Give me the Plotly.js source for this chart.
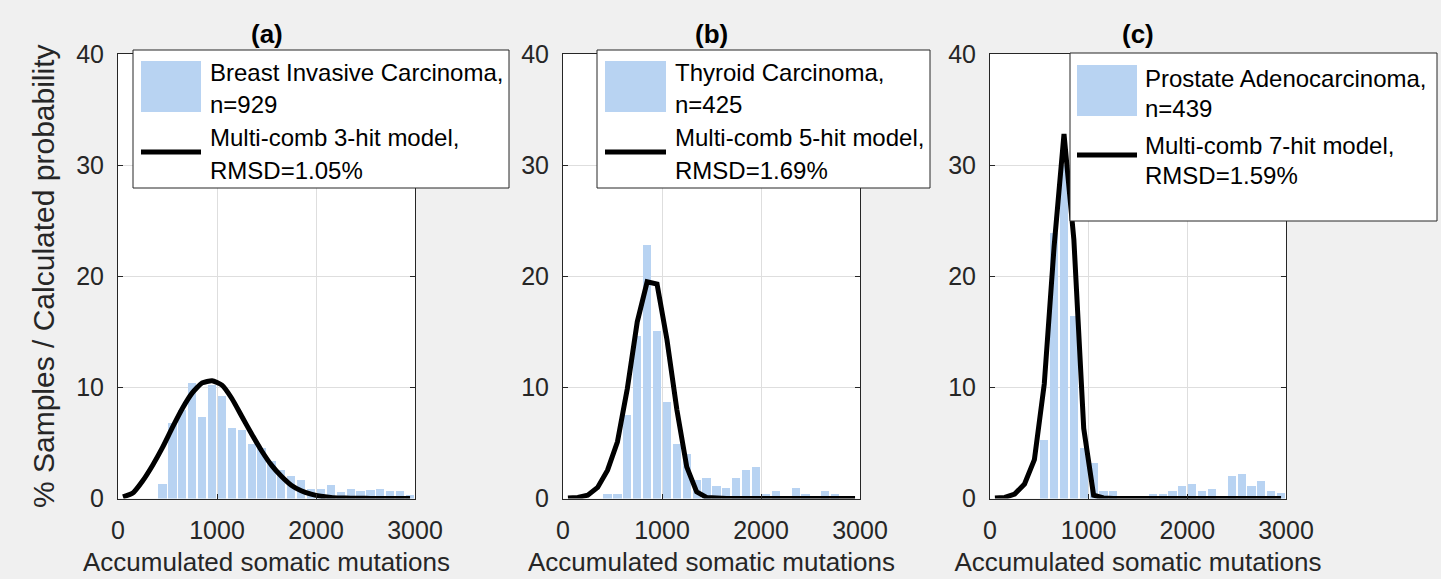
<!DOCTYPE html>
<html>
<head>
<meta charset="utf-8">
<script src="https://cdn.plot.ly/plotly-3.0.1.min.js"></script>
<style>html,body{margin:0;padding:0;background:#f0f0f0;}#chart{width:1441px;height:579px;}</style>
</head>
<body>
<div id="chart"></div>
<script>
// ---- data ----
const binCenters = [50,150,250,350,450,550,650,750,850,950,1050,1150,1250,1350,1450,1550,1650,1750,1850,1950,2050,2150,2250,2350,2450,2550,2650,2750,2850,2950];

const breastPct   = [0,0,0,0,1.3,6.8,8.0,10.4,7.3,10.2,9.2,6.3,6.2,4.9,4.5,3.4,2.6,2.0,1.7,0.9,0.9,1.2,0.6,0.9,0.7,0.8,0.9,0.7,0.7,0.3];
const thyroidPct  = [0,0,0,0,0.45,0.45,7.5,14.6,22.8,15.1,8.7,4.9,4.0,1.65,1.85,1.15,0.95,1.85,2.55,2.8,0.45,0.7,0,0.95,0.45,0,0.7,0.45,0,0];
const prostatePct = [0,0,0,0,0,5.25,23.9,30.0,16.4,4.5,3.2,0.7,0.7,0,0,0,0.4,0.4,0.7,1.1,1.35,0.7,0.9,0,2.0,2.25,1.15,1.6,0.7,0.5];

const breastModel   = [0.15,0.5,1.6,3.0,4.6,6.4,8.1,9.5,10.4,10.6,10.2,9.0,7.4,5.8,4.3,3.0,2.0,1.2,0.7,0.4,0.2,0.1,0.05,0.03,0.02,0.01,0.01,0,0,0];
const thyroidModel  = [0.05,0.1,0.3,1.0,2.55,5.1,9.9,15.9,19.5,19.3,14.3,8.0,2.85,0.6,0.1,0,0,0,0,0,0,0,0,0,0,0,0,0,0,0];
const prostateModel = [0.05,0.1,0.4,1.3,3.5,10.3,22.7,32.8,23.3,6.3,0.3,0.05,0,0,0,0,0,0,0,0,0,0,0,0,0,0,0,0,0,0];

const panelTitles  = ['(a)','(b)','(c)'];
const cancerLabels = [['Breast Invasive Carcinoma,','n=929'],['Thyroid Carcinoma,','n=425'],['Prostate Adenocarcinoma,','n=439']];
const modelLabels  = [['Multi-comb 3-hit model,','RMSD=1.05%'],['Multi-comb 5-hit model,','RMSD=1.69%'],['Multi-comb 7-hit model,','RMSD=1.59%']];
const xTickVals = [0,1000,2000,3000];
const yTickVals = [0,10,20,30,40];
const xTitle = 'Accumulated somatic mutations';
const yTitle = '% Samples / Calculated probability';

// ---- layout helpers (pixel -> paper) ----
const W = 1441, H = 579;
const PX = p => p / W;
const PY = p => 1 - p / H;
const FONT = 'Liberation Sans, Arial, Helvetica, sans-serif';
const INK = '#262626';
const BAR = '#b8d3f2';

const xDomPx = [[118,415],[563,860],[990,1286]];
const yDomPx = [54,498.5];

const pctSeries = [breastPct, thyroidPct, prostatePct];
const modelSeries = [breastModel, thyroidModel, prostateModel];
const lineShapes = ['spline','linear','linear'];

// legend geometry per panel (pixels)
const legBox = [
  {x0:133,x1:509,y0:50,y1:188, px0:141,px1:201,py0:61,py1:112, ly:152, tx:208, ty:[72,105,138,170]},
  {x0:597,x1:930,y0:50,y1:188, px0:605,px1:666,py0:61,py1:112, ly:152, tx:673, ty:[72,105,138,170]},
  {x0:1070,x1:1437,y0:53,y1:221, px0:1077,px1:1137,py0:65,py1:116, ly:155, tx:1143, ty:[78,108,145,175]}
];

const traces = [];
const layout = {
  width: W, height: H,
  margin: {l:0,r:0,t:0,b:0},
  paper_bgcolor: '#f0f0f0',
  plot_bgcolor: '#ffffff',
  showlegend: false,
  bargap: 0,
  font: {family: FONT, color: INK},
  shapes: [],
  annotations: []
};

for (let i = 0; i < 3; i++) {
  const sfx = i === 0 ? '' : String(i + 1);
  traces.push({
    type: 'bar', x: binCenters, y: pctSeries[i], width: 82,
    marker: {color: BAR, line: {width: 0}},
    xaxis: 'x' + sfx, yaxis: 'y' + sfx, hoverinfo: 'skip'
  });
  traces.push({
    type: 'scatter', mode: 'lines', x: binCenters, y: modelSeries[i],
    line: {color: '#000000', width: 5, shape: lineShapes[i], smoothing: 0.5},
    xaxis: 'x' + sfx, yaxis: 'y' + sfx, hoverinfo: 'skip'
  });

  const common = {
    showline: true, linecolor: INK, linewidth: 1, mirror: 'ticks',
    ticks: 'inside', ticklen: 5, tickwidth: 1, tickcolor: INK,
    showgrid: true, gridcolor: '#dedede', gridwidth: 1, zeroline: false,
    tickfont: {family: FONT, size: 25, color: INK}, fixedrange: true
  };
  layout['xaxis' + sfx] = Object.assign({}, common, {
    domain: [PX(xDomPx[i][0]), PX(xDomPx[i][1])],
    range: [0, 3000], tickmode: 'array', tickvals: xTickVals,
    ticktext: xTickVals.map(String),
    anchor: 'y' + sfx, ticklabelstandoff: 9,
    title: {text: xTitle, font: {family: FONT, size: 26, color: INK}, standoff: 10}
  });
  layout['yaxis' + sfx] = Object.assign({}, common, {
    domain: [PY(yDomPx[1]), PY(yDomPx[0])],
    range: [0, 40], tickmode: 'array', tickvals: yTickVals,
    ticktext: yTickVals.map(String),
    anchor: 'x' + sfx, ticklabelstandoff: 8
  });
  if (i === 0) {
    layout.yaxis.title = {text: yTitle, font: {family: FONT, size: 30, color: INK}, standoff: 12};
  }

  // panel title
  layout.annotations.push({
    xref: 'paper', yref: 'paper',
    x: PX((xDomPx[i][0] + xDomPx[i][1]) / 2), y: PY(34),
    xanchor: 'center', yanchor: 'middle', showarrow: false,
    text: '<b>' + panelTitles[i] + '</b>',
    font: {family: FONT, size: 26, color: '#000000'}
  });

  // legend box
  const g = legBox[i];
  layout.shapes.push({type:'rect', xref:'paper', yref:'paper', layer:'above',
    x0:PX(g.x0), x1:PX(g.x1), y0:PY(g.y1), y1:PY(g.y0),
    fillcolor:'#ffffff', line:{color:INK, width:1}});
  layout.shapes.push({type:'rect', xref:'paper', yref:'paper', layer:'above',
    x0:PX(g.px0), x1:PX(g.px1), y0:PY(g.py1), y1:PY(g.py0),
    fillcolor:BAR, line:{width:0}});
  layout.shapes.push({type:'line', xref:'paper', yref:'paper', layer:'above',
    x0:PX(g.px0), x1:PX(g.px1), y0:PY(g.ly), y1:PY(g.ly),
    line:{color:'#000000', width:5}});
  const lines = cancerLabels[i].concat(modelLabels[i]);
  lines.forEach((t, k) => {
    layout.annotations.push({
      xref:'paper', yref:'paper', x:PX(g.tx), y:PY(g.ty[k]),
      xanchor:'left', yanchor:'middle', showarrow:false, text:t,
      font:{family:FONT, size:24, color:'#000000'}
    });
  });
}

Plotly.newPlot('chart', traces, layout, {displayModeBar:false, staticPlot:true});
</script>
</body>
</html>
